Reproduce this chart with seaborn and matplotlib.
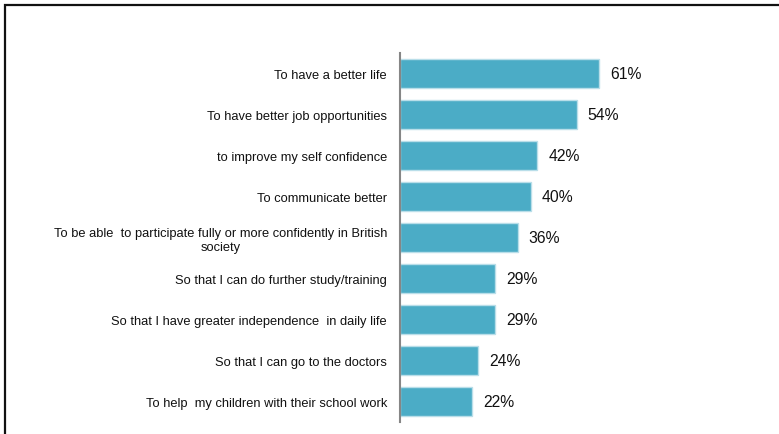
import matplotlib
matplotlib.use('Agg')
import matplotlib.pyplot as plt
import matplotlib.patches as mpatches
import numpy as np
import pandas as pd
import seaborn as sns

# 資料
reasons = [
    'To have a better life',
    'To have better job opportunities',
    'to improve my self confidence',
    'To communicate better',
    'To be able  to participate fully or more confidently in British\nsociety',
    'So that I can do further study/training',
    'So that I have greater independence  in daily life',
    'So that I can go to the doctors',
    'To help  my children with their school work',
]
percent = [61, 54, 42, 40, 36, 29, 29, 24, 22]

BAR_COLOR = '#4BACC6'
SPINE_COLOR = '#868686'

sns.set_theme(style='white')
plt.rcParams['font.family'] = ['Liberation Sans', 'DejaVu Sans']

df = pd.DataFrame({'reason': reasons, 'pct': percent})

W, H = 779, 435
fig = plt.figure(figsize=(W / 100, H / 100), dpi=100)
ax_left, ax_right = 400 / W, 775 / W
ax_top, ax_bot = 1 - 54 / H, 1 - 423 / H
ax = fig.add_axes([ax_left, ax_bot, ax_right - ax_left, ax_top - ax_bot])

sns.barplot(data=df, y='reason', x='pct', orient='h', color=BAR_COLOR,
            width=0.71, edgecolor='#B9DEE9', linewidth=1, saturation=1, ax=ax)

ax.set_xlim(0, 375 / 3.27)
ax.set_ylim(len(reasons) - 0.5, -0.5)
ax.set_xlabel('')
ax.set_ylabel('')
ax.set_xticks([])

# 軸線與刻度
for s in ['top', 'right', 'bottom']:
    ax.spines[s].set_visible(False)
ax.spines['left'].set_color(SPINE_COLOR)
ax.spines['left'].set_linewidth(1.5)
ax.tick_params(axis='y', which='major', length=0, pad=9.4, labelsize=9.3, labelcolor='#111111')
ax.set_yticks(np.arange(-0.5, len(reasons)), minor=True)
ax.tick_params(axis='y', which='minor', length=4, width=1.2, color=SPINE_COLOR, direction='out')
for lab in ax.get_yticklabels():
    lab.set_multialignment('center')

# 數值標籤
ax.bar_label(ax.containers[0], labels=[f'{v}%' for v in percent], padding=8,
             fontsize=11.3, color='#111111')

# 外框
fig.patches.append(mpatches.Rectangle((5 / W, -0.2), 2, 1.2 - 6 / H, fill=False,
                                      lw=1.6, ec='#111111', transform=fig.transFigure,
                                      figure=fig))

fig.savefig('out.png', dpi=100)
